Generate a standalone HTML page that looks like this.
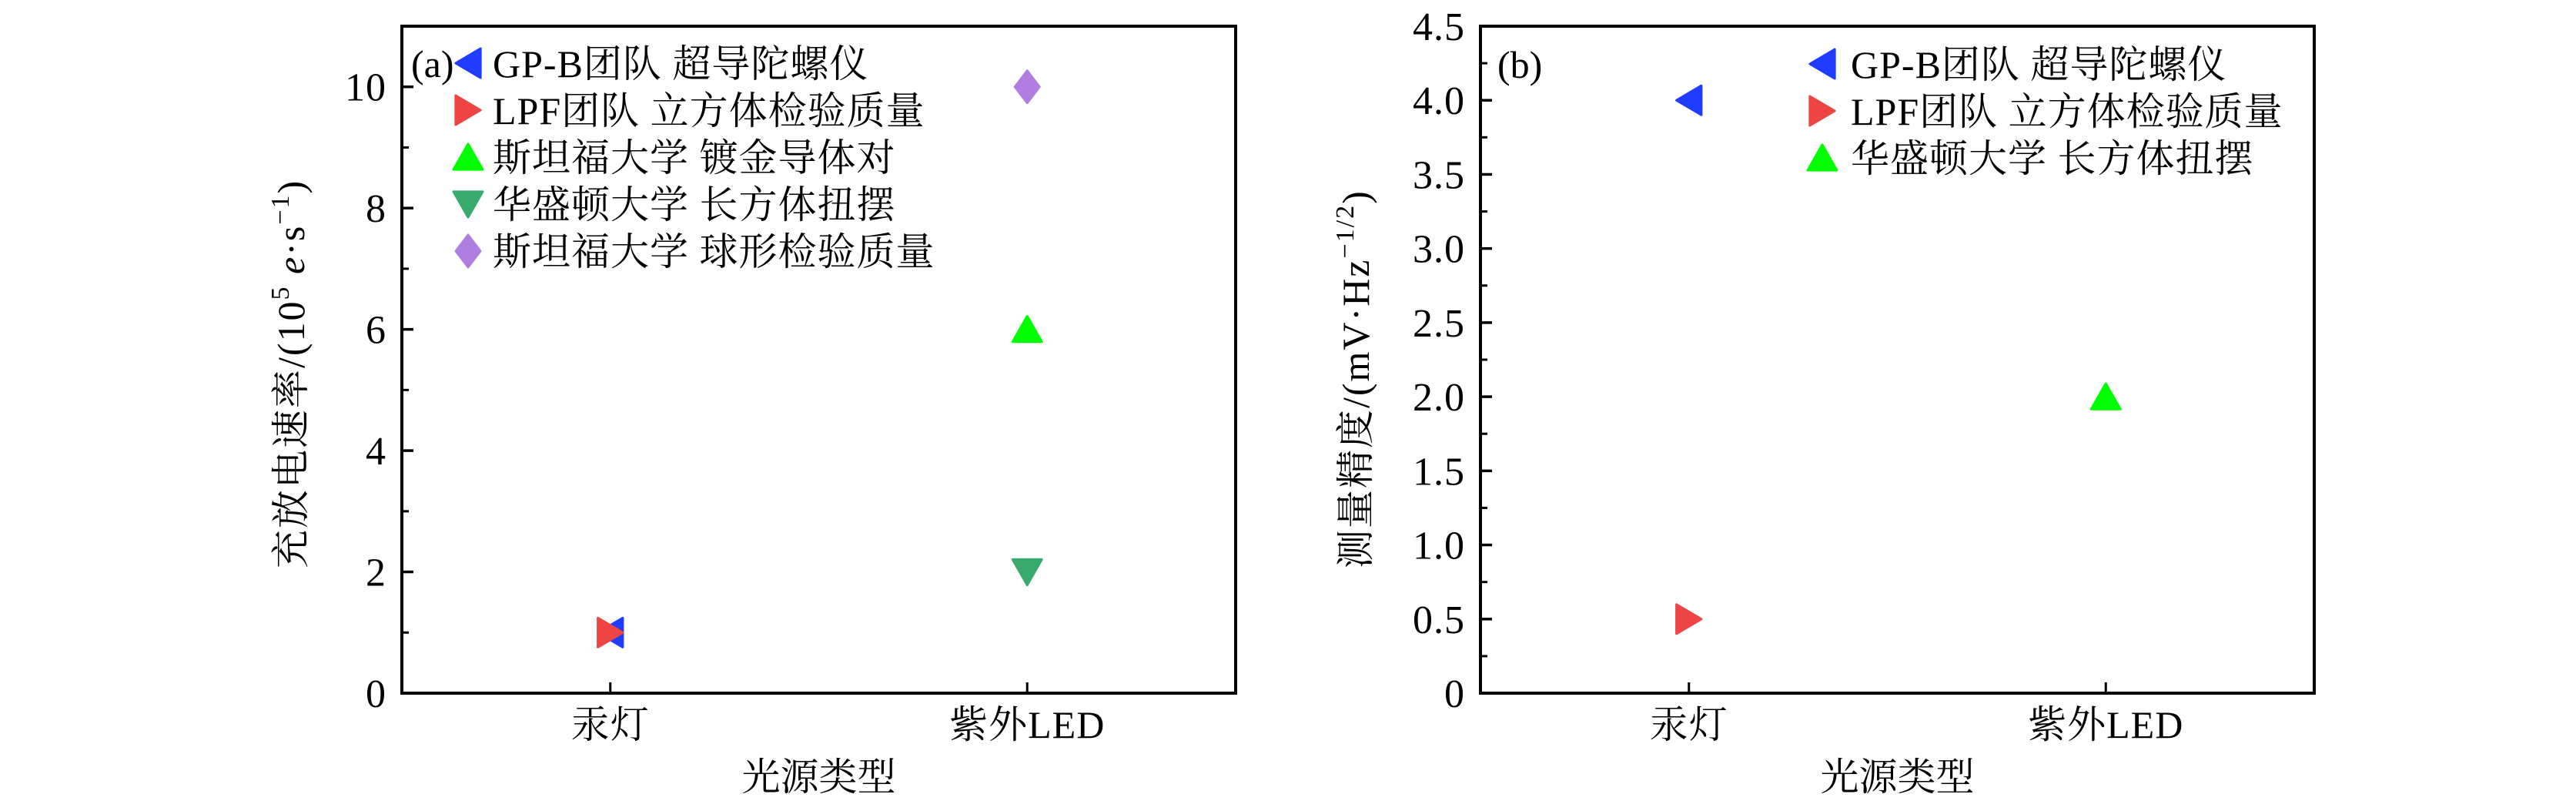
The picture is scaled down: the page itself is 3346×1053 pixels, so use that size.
<!DOCTYPE html>
<html><head><meta charset="utf-8"><style>
html,body{margin:0;padding:0;background:#fff;}
svg{display:block;}
text{font-family:"Liberation Serif","Noto Serif CJK SC","Noto Sans CJK SC",serif;fill:#000;}
</style></head><body>
<svg id="fig" width="3346" height="1053" viewBox="0 0 3346 1053" xmlns="http://www.w3.org/2000/svg">
<rect width="3346" height="1053" fill="#fff"/>
<g id="pa"></g>
<g id="pb"></g>
</svg>
<script>
// ---- Data ----
const categories = ["汞灯", "紫外LED"];
const aGPB_x = [0]; const aGPB_y = [1];
const aLPF_x = [0]; const aLPF_y = [1];
const aStanGold_x = [1]; const aStanGold_y = [6];
const aUW_x = [1]; const aUW_y = [2];
const aStanSphere_x = [1]; const aStanSphere_y = [10];
const aTickLabels = ["0","2","4","6","8","10"];
const aTickValues = [0,2,4,6,8,10];
const bGPB_x = [0]; const bGPB_y = [4.0];
const bLPF_x = [0]; const bLPF_y = [0.5];
const bUW_x = [1]; const bUW_y = [2.0];
const bTickLabels = ["0","0.5","1.0","1.5","2.0","2.5","3.0","3.5","4.0","4.5"];
const bTickValues = [0,0.5,1,1.5,2,2.5,3,3.5,4,4.5];

const NS = "http://www.w3.org/2000/svg";
function mk(parent, tag, attrs){
  const e = document.createElementNS(NS, tag);
  for (const k in attrs) e.setAttribute(k, attrs[k]);
  parent.appendChild(e); return e;
}
const COL = {left:"#1f3cff", right:"#ee4444", up:"#00ff00", down:"#38aa6c", diamond:"#b07ee0"};
function markerPts(type, cx, cy){
  const s = 19;
  if (type==="left") return [[cx+s*0.85,cy-s],[cx+s*0.85,cy+s],[cx-s*0.85,cy]];
  if (type==="right") return [[cx-s*0.85,cy-s],[cx-s*0.85,cy+s],[cx+s*0.85,cy]];
  if (type==="up") return [[cx-s,cy+s*0.85],[cx+s,cy+s*0.85],[cx,cy-s*0.9]];
  if (type==="down") return [[cx-s,cy-s*0.85],[cx+s,cy-s*0.85],[cx,cy+s*0.9]];
  return [[cx,cy-21],[cx+16,cy],[cx,cy+21],[cx-16,cy]];
}
function marker(g, type, cx, cy, name){
  const p = mk(g, "polygon", {points: markerPts(type,cx,cy).map(q=>q.join(",")).join(" "),
    fill: COL[type], stroke: COL[type], "stroke-width": 3, "stroke-linejoin": "round"});
  
  
  return p;
}

function panel(g, L, R, T, B, ymax, tickVals, tickLabs, minorStep, series, legend, legX, legTextX, legY0, tag, tagX, ylabelParts, ylabelX, ylabelBottom){
  const yS = v => B - (v/ymax)*(B-T);
  const xS = i => L + (i+0.5)/2*(R-L);
  const fr = mk(g,"rect",{x:L,y:T,width:R-L,height:B-T,fill:"none",stroke:"#000","stroke-width":4});
  
  
  for (let i=0;i<tickVals.length;i++){
    const y = yS(tickVals[i]);
    const t = mk(g,"line",{x1:L,x2:L+15,y1:y,y2:y,stroke:"#000","stroke-width":3.5});
    
    
    const tx = mk(g,"text",{x:L-20,y:y+18,"text-anchor":"end","font-size":52,"letter-spacing":1});
    tx.textContent = tickLabs[i];
    
    
  }
  for (let v=minorStep; v<ymax; v+=minorStep*2){
    const y = yS(v);
    const t = mk(g,"line",{x1:L,x2:L+9,y1:y,y2:y,stroke:"#000","stroke-width":3});
    
    
  }
  for (let i=0;i<categories.length;i++){
    const x = xS(i);
    const t = mk(g,"line",{x1:x,x2:x,y1:B,y2:B-14,stroke:"#000","stroke-width":3});
    
    
    const tx = mk(g,"text",{x:x,y:B+58,"text-anchor":"middle","font-size":50,"letter-spacing":1});
    tx.textContent = categories[i];
    
    
  }
  const xl = mk(g,"text",{x:(L+R)/2,y:B+126,"text-anchor":"middle","font-size":50});
  xl.textContent = "光源类型";
  
  
  const yl = mk(g,"text",{x:0,y:0,"font-size":50,"letter-spacing":2,transform:`translate(${ylabelX},${ylabelBottom}) rotate(-90)`});
  
  
  ylabelParts.forEach(p=>{
    const ts = mk(yl,"tspan",p.sup?{"font-size":34,dy:-20}:(p.after?{dy:20}:{}));
    if (p.italic) ts.setAttribute("font-style","italic");
    ts.textContent = p.t;
  });
  series.forEach(s=>{
    for (let i=0;i<s.x.length;i++) marker(g, s.type, xS(s.x[i]), yS(s.y[i]), s.name);
  });
  legend.forEach((e,i)=>{
    const y = legY0 + i*61;
    marker(g, e.type, legX, y, 'legend-marker');
    const t = mk(g,"text",{x:legTextX,y:y+18,"font-size":50,"letter-spacing":1});
    t.textContent = e.label;
    
    
  });
  const tg = mk(g,"text",{x:tagX,y:legY0+18,"font-size":50});
  tg.textContent = tag;
  
  
}

panel(document.getElementById("pa"), 522, 1605, 34, 900, 11, aTickValues, aTickLabels, 1,
  [{type:"left",x:aGPB_x,y:aGPB_y,name:"point-gpb"},
   {type:"right",x:aLPF_x,y:aLPF_y,name:"point-lpf"},
   {type:"up",x:aStanGold_x,y:aStanGold_y,name:"point-stanford-gold"},
   {type:"down",x:aUW_x,y:aUW_y,name:"point-uw-torsion"},
   {type:"diamond",x:aStanSphere_x,y:aStanSphere_y,name:"point-stanford-sphere"}],
  [{type:"left",label:"GP-B团队 超导陀螺仪"},{type:"right",label:"LPF团队 立方体检验质量"},
   {type:"up",label:"斯坦福大学 镀金导体对"},{type:"down",label:"华盛顿大学 长方体扭摆"},
   {type:"diamond",label:"斯坦福大学 球形检验质量"}],
  608, 640, 82, "(a)", 534,
  [{t:"充放电速率/(10"},{t:"5",sup:true},{t:" e",italic:true,after:true},{t:"·s"},{t:"−1",sup:true},{t:")",after:true}],
  395, 738);

panel(document.getElementById("pb"), 1923, 3006, 34, 900, 4.5, bTickValues, bTickLabels, 0.25,
  [{type:"left",x:bGPB_x,y:bGPB_y,name:"point-gpb"},
   {type:"right",x:bLPF_x,y:bLPF_y,name:"point-lpf"},
   {type:"up",x:bUW_x,y:bUW_y,name:"point-uw-torsion"}],
  [{type:"left",label:"GP-B团队 超导陀螺仪"},{type:"right",label:"LPF团队 立方体检验质量"},
   {type:"up",label:"华盛顿大学 长方体扭摆"}],
  2367, 2404, 83, "(b)", 1945,
  [{t:"测量精度/(mV·Hz"},{t:"−1/2",sup:true},{t:")",after:true}],
  1778, 738);
</script>
</body></html>
